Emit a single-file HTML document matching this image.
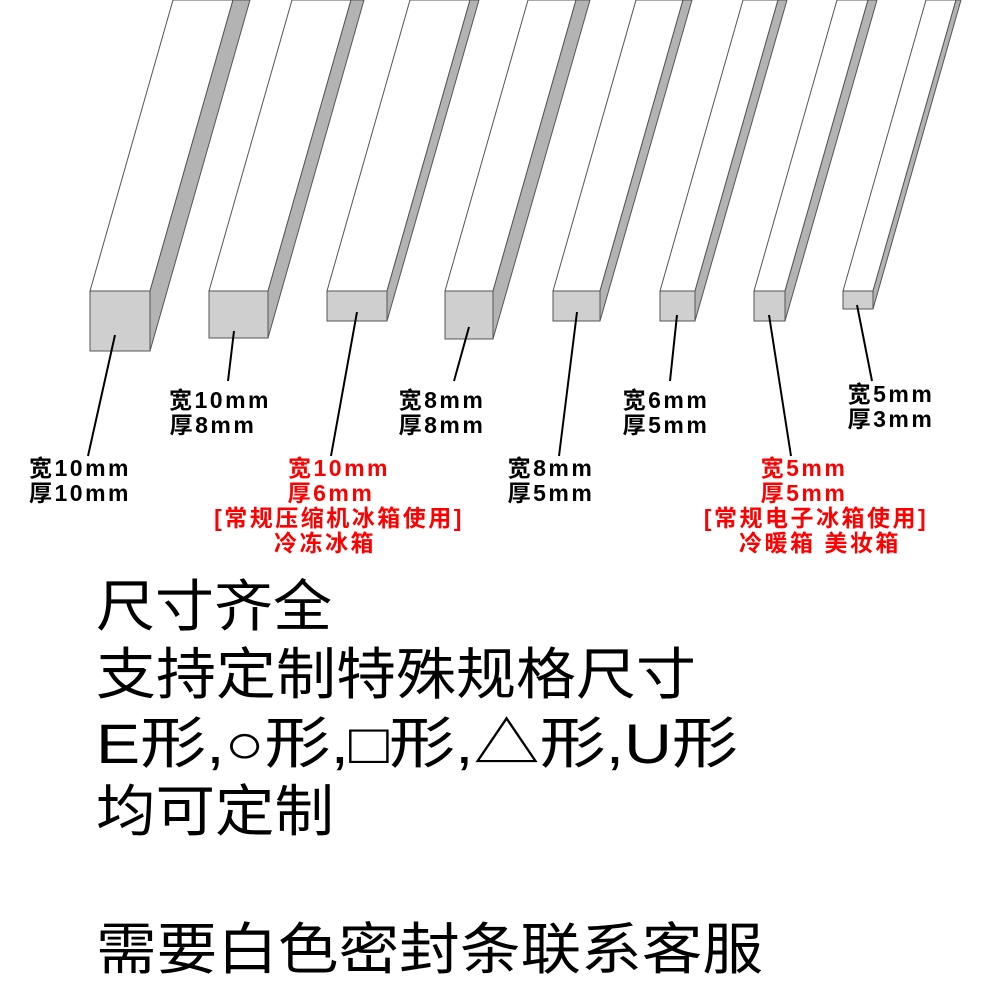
<!DOCTYPE html>
<html><head><meta charset="utf-8"><style>
html,body{margin:0;padding:0;background:#fff;}
svg{display:block;}
.lb{font-family:"Liberation Sans","Noto Sans CJK SC",sans-serif;font-weight:bold;font-size:23px;text-anchor:middle;letter-spacing:2.5px;}
.bg{font-family:"Liberation Sans","Noto Sans CJK SC",sans-serif;font-size:56px;}
</style></head><body>
<svg width="1000" height="1000" viewBox="0 0 1000 1000" xmlns="http://www.w3.org/2000/svg">
<g stroke="#555" stroke-width="1">
<polygon points="90,291 173,0 233,0 150,291" fill="#fff"/>
<polygon points="150,291 233,0 250,0 150,351" fill="#b3b3b3"/>
<rect x="90" y="291" width="60" height="60" fill="#cfcfcf"/>

<polygon points="209,291 292,0 351,0 268,291" fill="#fff"/>
<polygon points="268,291 351,0 364,0 268,338" fill="#b3b3b3"/>
<rect x="209" y="291" width="59" height="47" fill="#cfcfcf"/>

<polygon points="327,291 410,0 470,0 387,291" fill="#fff"/>
<polygon points="387,291 470,0 479,0 387,321" fill="#b3b3b3"/>
<rect x="327" y="291" width="60" height="30" fill="#cfcfcf"/>

<polygon points="445,291 528,0 576,0 493,291" fill="#fff"/>
<polygon points="493,291 576,0 590,0 493,339" fill="#b3b3b3"/>
<rect x="445" y="291" width="48" height="48" fill="#cfcfcf"/>

<polygon points="553,291 636,0 683,0 600,291" fill="#fff"/>
<polygon points="600,291 683,0 692,0 600,321" fill="#b3b3b3"/>
<rect x="553" y="291" width="47" height="30" fill="#cfcfcf"/>

<polygon points="660,291 743,0 778,0 695,291" fill="#fff"/>
<polygon points="695,291 778,0 787,0 695,321" fill="#b3b3b3"/>
<rect x="660" y="291" width="35" height="30" fill="#cfcfcf"/>

<polygon points="754,291 837,0 868,0 785,291" fill="#fff"/>
<polygon points="785,291 868,0 877,0 785,321" fill="#b3b3b3"/>
<rect x="754" y="291" width="31" height="30" fill="#cfcfcf"/>

<polygon points="843,291 926,0 956,0 873,291" fill="#fff"/>
<polygon points="873,291 956,0 961,0 873,309" fill="#b3b3b3"/>
<rect x="843" y="291" width="30" height="18" fill="#cfcfcf"/>
</g>
<g stroke="#000" stroke-width="2">
<line x1="115" y1="335" x2="88" y2="456"/>
<line x1="234" y1="331" x2="228" y2="381"/>
<line x1="357" y1="312" x2="331" y2="456"/>
<line x1="469" y1="327" x2="454" y2="381"/>
<line x1="577" y1="312" x2="559" y2="456"/>
<line x1="677" y1="315" x2="670" y2="381"/>
<line x1="769" y1="315" x2="791" y2="456"/>
<line x1="857" y1="305" x2="872" y2="381"/>
</g>
<g class="lb" fill="#000">
<text x="80" y="476">宽10mm</text><text x="80" y="501">厚10mm</text>
<text x="220" y="408">宽10mm</text><text x="213" y="433">厚8mm</text>
<text x="442" y="408">宽8mm</text><text x="442" y="433">厚8mm</text>
<text x="551" y="476">宽8mm</text><text x="551" y="501">厚5mm</text>
<text x="666" y="408">宽6mm</text><text x="666" y="433">厚5mm</text>
<text x="891" y="402">宽5mm</text><text x="891" y="427">厚3mm</text>
</g>
<g class="lb" fill="#f00">
<text x="339" y="476">宽10mm</text><text x="331" y="501">厚6mm</text>
<text x="339" y="526">[常规压缩机冰箱使用]</text><text x="325" y="551">冷冻冰箱</text>
<text x="804" y="476">宽5mm</text><text x="804" y="501">厚5mm</text>
<text x="816" y="526">[常规电子冰箱使用]</text><text x="820" y="551">冷暖箱  美妆箱</text>
</g>
<g class="bg" fill="#000">
<text x="96" y="626" textLength="236" lengthAdjust="spacingAndGlyphs">尺寸齐全</text>
<text x="96" y="694" textLength="600" lengthAdjust="spacingAndGlyphs">支持定制特殊规格尺寸</text>
<text x="96" y="763" textLength="642" lengthAdjust="spacingAndGlyphs">E形,○形,□形,△形,U形</text>
<text x="96" y="831" textLength="238" lengthAdjust="spacingAndGlyphs">均可定制</text>
<text x="96" y="969" textLength="667" lengthAdjust="spacingAndGlyphs">需要白色密封条联系客服</text>
</g>
</svg>
</body></html>
